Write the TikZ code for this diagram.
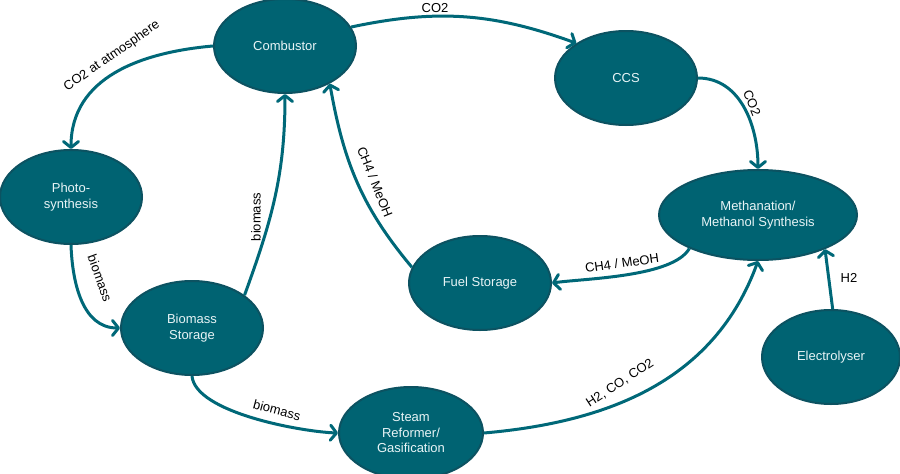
\documentclass[tikz,border=0pt]{standalone}
\usepackage{fontspec}
\setmainfont{Liberation Sans}
\usetikzlibrary{arrows.meta,shapes.geometric}
\definecolor{tealfill}{RGB}{0,99,114}
\definecolor{tealedge}{RGB}{12,82,97}
\definecolor{tealline}{RGB}{0,104,120}
\definecolor{nodetext}{RGB}{232,244,246}
\tikzset{
  proc/.style={ellipse, fill=tealfill, draw=tealedge, line width=2pt,
    minimum width=142pt, minimum height=94pt, inner sep=0pt,
    text=nodetext, align=center, font=\fontsize{13}{15.5}\selectfont},
  flow/.style={draw=tealline, line width=3pt,
    -{Straight Barb[length=6pt,width=15pt,round]}},
  lbl/.style={font=\fontsize{13}{15.5}\selectfont, text=black, inner sep=0pt}
}
\begin{document}
\begin{tikzpicture}[x=1pt,y=-1pt]
\useasboundingbox (0,0) rectangle (900,474);
% nodes
\node[proc] (comb) at (285,46) {Combustor};
\node[proc] (ccs) at (626,78) {CCS};
\node[proc] (photo) at (71,197) {Photo-\\synthesis};
\node[proc] (bstore) at (192,328) {Biomass\\Storage};
\node[proc] (fuel) at (480,283) {Fuel Storage};
\node[proc, minimum width=198pt, minimum height=90pt] (meth) at (758,215) {Methanation/\\Methanol Synthesis};
\node[proc, minimum width=138pt] (elec) at (831,357) {Electrolyser};
\node[proc, minimum width=144pt, minimum height=92pt] (steam) at (411,433) {Steam\\Reformer/\\Gasification};
% connectors
\draw[flow] (comb.180) to[out=185,in=90,looseness=1.05] (photo.90);
\draw[flow] (comb.16) to[out=12,in=160] (ccs.145);
\draw[flow] (ccs.0) to[out=0,in=90] (meth.90);
\draw[flow] (meth.206) to[out=240,in=8,looseness=0.6] (fuel.0);
\draw[flow] (fuel.167) to[out=130,in=-80] (comb.-40);
\draw[flow] (bstore.32) to[out=70,in=-90] (comb.-90);
\draw[flow] (photo.-90) to[out=-88,in=180] (bstore.180);
\draw[flow] (bstore.-90) to[out=-85,in=178,looseness=0.6] (steam.180);
\draw[flow] (steam.0) to[out=5,in=-110] (meth.-90);
\draw[flow] (elec.88) -- (meth.-27);
% labels
\node[lbl, rotate=35] (l1) at (112,56) {CO2 at atmosphere};
\node[lbl] (l2) at (435,8) {CO2};
\node[lbl, rotate=-68] (l3) at (752,103) {CO2};
\node[lbl, rotate=8] (l4) at (622,263) {CH4 / MeOH};
\node[lbl, rotate=-68] (l5) at (375,182) {CH4 / MeOH};
\node[lbl, rotate=90] (l6) at (256,217) {biomass};
\node[lbl, rotate=-70] (l7) at (100,278) {biomass};
\node[lbl, rotate=-15] (l8) at (277,410) {biomass};
\node[lbl, rotate=33] (l9) at (620,383) {H2, CO, CO2};
\node[lbl] (l10) at (849,278) {H2};
\end{tikzpicture}
\end{document}
